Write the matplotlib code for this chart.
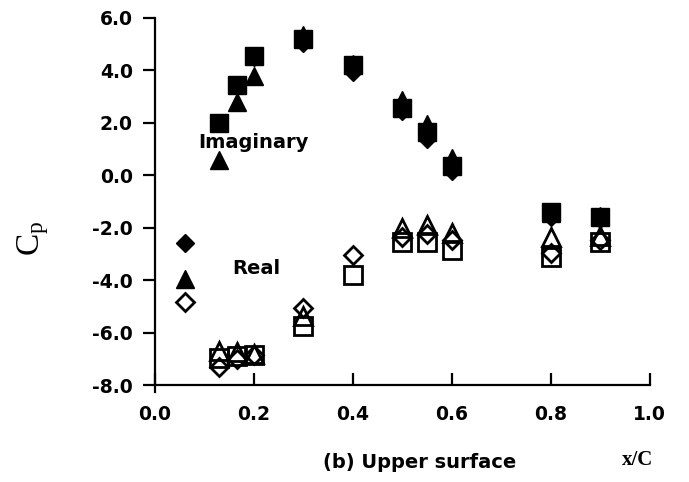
import numpy as np
import matplotlib
matplotlib.use("Agg")
import matplotlib.pyplot as plt

nan = np.nan
x_c = [0.06, 0.13, 0.165, 0.2, 0.3, 0.4, 0.5, 0.55, 0.6, 0.8, 0.9]

# Imaginary part (filled markers)
imag_square = [nan, 2.0, 3.45, 4.55, 5.2, 4.2, 2.55, 1.65, 0.35, -1.4, -1.6]
imag_triangle = [-3.95, 0.6, 2.8, 3.8, 5.35, 4.25, 2.85, 1.95, 0.65, -1.45, -1.55]
imag_diamond = [-2.6, 2.0, 3.4, 4.5, 5.05, 3.95, 2.45, 1.4, 0.15, -1.6, -1.65]

# Real part (open markers)
real_square = [nan, -6.95, -6.9, -6.85, -5.75, -3.8, -2.55, -2.55, -2.85, -3.1, -2.55]
real_triangle = [nan, -6.7, -6.75, -6.8, -5.35, nan, -2.0, -1.9, -2.2, -2.35, -2.3]
real_diamond = [-4.85, -7.3, -7.0, -6.85, -5.05, -3.05, -2.35, -2.25, -2.45, -2.95, -2.45]

yticks = [-8, -6, -4, -2, 0, 2, 4, 6]
xticks = [0.0, 0.2, 0.4, 0.6, 0.8, 1.0]

fig = plt.figure(figsize=(6.89, 4.82), dpi=100)
ax = fig.add_axes([0.225, 0.201, 0.718, 0.762])

ms_sq, ms_tri, ms_dia = 12.5, 13, 9.5
mew = 2.0

# open (real)
ax.plot(x_c, real_square, 's', ms=ms_sq, mfc='none', mec='black', mew=mew, ls='none')
ax.plot(x_c, real_triangle, '^', ms=ms_tri, mfc='none', mec='black', mew=mew, ls='none')
ax.plot(x_c, real_diamond, 'D', ms=ms_dia, mfc='none', mec='black', mew=mew, ls='none')
# filled (imaginary)
ax.plot(x_c, imag_square, 's', ms=ms_sq, mfc='black', mec='black', mew=1, ls='none')
ax.plot(x_c, imag_triangle, '^', ms=ms_tri, mfc='black', mec='black', mew=1, ls='none')
ax.plot(x_c, imag_diamond, 'D', ms=ms_dia, mfc='black', mec='black', mew=1, ls='none')

ax.set_xlim(0, 1.0)
ax.set_ylim(-8, 6)
ax.set_xticks(xticks)
ax.set_xticklabels([f"{v:.1f}" for v in xticks])
ax.set_yticks(yticks)
ax.set_yticklabels([f"{v:.1f}" for v in yticks])

for s in ['top', 'right']:
    ax.spines[s].set_visible(False)
for s in ['left', 'bottom']:
    ax.spines[s].set_linewidth(1.6)
ax.spines['left'].set_bounds(-8.25, 6)

ax.tick_params(axis='y', direction='out', length=9, width=1.6, pad=7, labelsize=13.5)
ax.tick_params(axis='x', direction='in', length=9, width=1.6, pad=14, labelsize=13.5)
for lab in ax.get_xticklabels() + ax.get_yticklabels():
    lab.set_fontweight('bold')
    lab.set_family('DejaVu Sans')

ax.text(0.198, 1.04, 'Imaginary', ha='center', va='baseline', fontsize=14,
        fontweight='bold', family='DejaVu Sans')
ax.text(0.204, -3.77, 'Real', ha='center', va='baseline', fontsize=14,
        fontweight='bold', family='DejaVu Sans')

fig.text(420 / 689, 1 - 463 / 482, '(b) Upper surface', ha='center', va='center',
         fontsize=14, fontweight='bold', family='DejaVu Sans')
fig.text(638 / 689, 1 - 460 / 482, 'x/C', ha='center', va='center',
         fontsize=15, fontweight='bold', family='Liberation Serif')
fig.text(33 / 689, 1 - 238 / 482, r'$\mathregular{C_p}$', ha='center', va='center',
         rotation=90, fontsize=24, family='Liberation Serif')

fig.savefig('out.png', dpi=100)
